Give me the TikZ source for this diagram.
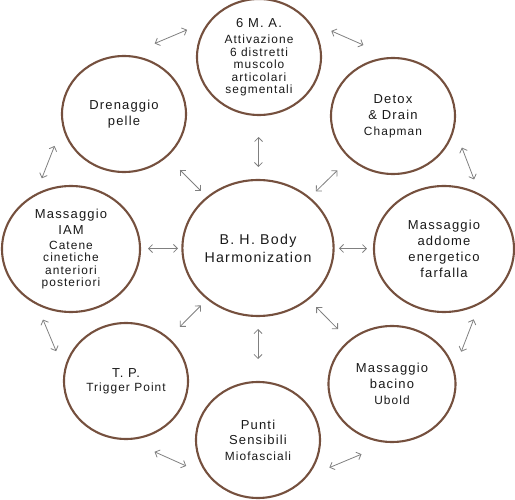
\documentclass[tikz,border=0pt]{standalone}
\usepackage{fontspec}
\setmainfont{Liberation Sans}[LetterSpace=9]
\usepackage{tikz}
\usetikzlibrary{shapes.geometric,calc,arrows.meta}
\definecolor{marrone}{RGB}{117,80,62}
\definecolor{grigio}{RGB}{128,128,128}
\newcommand\titolo{\fontsize{13}{16}\selectfont}
\newcommand\piccolo{\fontsize{11.9}{12.4}\selectfont}
\tikzset{
	cerchio/.style={ellipse,draw=marrone,line width=2.1pt,minimum width=124pt,minimum height=116pt,inner sep=0pt,align=center,font=\titolo,text=black!90},
	cerchiogrande/.style={cerchio,minimum width=140pt,minimum height=126pt},
	freccia/.style={grigio,line width=0.8pt,<->,>={Straight Barb[length=4pt,width=8pt]}}
}

\begin{document}
\begin{tikzpicture}[x=1pt,y=-1pt]
			\useasboundingbox (0,0) rectangle (515,500);
			\coordinate (centro) at (258,248);
			\coordinate (alto) at (259,57);
			\coordinate (altosx) at (124,114);
			\coordinate (altodx) at (393,116);
			\coordinate (destra) at (444,249);
			\coordinate (bassodx) at (392,384);
			\coordinate (basso) at (258,440);
			\coordinate (bassosx) at (126,381);
			\coordinate (sinistra) at (71,249);
			
			\node[cerchio,minimum width=148pt,minimum height=136pt,font={\fontsize{14.2}{18}\selectfont}] (bh) at (centro) {B. H. Body\\ Harmonization};
			\node[cerchio,font=\piccolo] (sei) at (alto) {{\titolo 6 M. A.}\\[4.4pt] Attivazione\\ 6 distretti\\ muscolo\\ articolari\\ segmentali};
			\node[cerchio] (drenaggio) at (altosx) {Drenaggio\\ pelle};
			\node[cerchio] (detox) at (altodx) {Detox\\ \& Drain\\ {\piccolo Chapman}};
			\node[cerchiogrande] (addome) at (destra) {Massaggio\\ addome\\ energetico\\ farfalla};
			\node[cerchio,minimum width=127pt] (bacino) at (bassodx) {Massaggio\\ bacino\\ {\piccolo Ubold}};
			\node[cerchio] (punti) at (basso) {Punti\\[-1pt] Sensibili\\ {\piccolo Miofasciali}};
			\node[cerchio] (trigger) at (bassosx) {T. P.\\[-2pt] {\piccolo Trigger Point}};
			\node[cerchiogrande,minimum width=138pt,font=\piccolo] (iam) at (sinistra) {{\titolo Massaggio}\\[3.6pt] {\titolo IAM}\\[2.6pt] Catene\\ cinetiche\\ anteriori\\ posteriori};
			
			\draw[freccia] ($(bh)!81pt!(sei)$) -- ($(bh)!111pt!(sei)$);
			\draw[freccia] ($(bh)!81pt!(detox)$) -- ($(bh)!111pt!(detox)$);
			\draw[freccia] ($(bh)!81pt!(addome)$) -- ($(bh)!109pt!(addome)$);
			\draw[freccia] ($(bh)!83pt!(bacino)$) -- ($(bh)!114pt!(bacino)$);
			\draw[freccia] ($(bh)!81pt!(punti)$) -- ($(bh)!111pt!(punti)$);
			\draw[freccia] ($(bh)!81pt!(trigger)$) -- ($(bh)!111pt!(trigger)$);
			\draw[freccia] ($(bh)!80pt!(iam)$) -- ($(bh)!110pt!(iam)$);
			\draw[freccia] ($(bh)!81pt!(drenaggio)$) -- ($(bh)!111pt!(drenaggio)$);
			
			\draw[freccia] ($(drenaggio)!.38!(sei)!53pt!90:(sei)$) -- ($(sei)!.38!(drenaggio)!53pt!-90:(drenaggio)$);
			\draw[freccia] ($(sei)!.38!(detox)!53pt!90:(detox)$) -- ($(detox)!.38!(sei)!53pt!-90:(sei)$);
			\draw[freccia] ($(detox)!.38!(addome)!53pt!90:(addome)$) -- ($(addome)!.38!(detox)!53pt!-90:(detox)$);
			\draw[freccia] ($(addome)!.38!(bacino)!53pt!90:(bacino)$) -- ($(bacino)!.38!(addome)!53pt!-90:(addome)$);
			\draw[freccia] ($(bacino)!.38!(punti)!53pt!90:(punti)$) -- ($(punti)!.38!(bacino)!53pt!-90:(bacino)$);
			\draw[freccia] ($(punti)!.38!(trigger)!53pt!90:(trigger)$) -- ($(trigger)!.38!(punti)!53pt!-90:(punti)$);
			\draw[freccia] ($(trigger)!.38!(iam)!53pt!90:(iam)$) -- ($(iam)!.38!(trigger)!53pt!-90:(trigger)$);
			\draw[freccia] ($(iam)!.38!(drenaggio)!53pt!90:(drenaggio)$) -- ($(drenaggio)!.38!(iam)!53pt!-90:(iam)$);
		\end{tikzpicture}
\end{document}
